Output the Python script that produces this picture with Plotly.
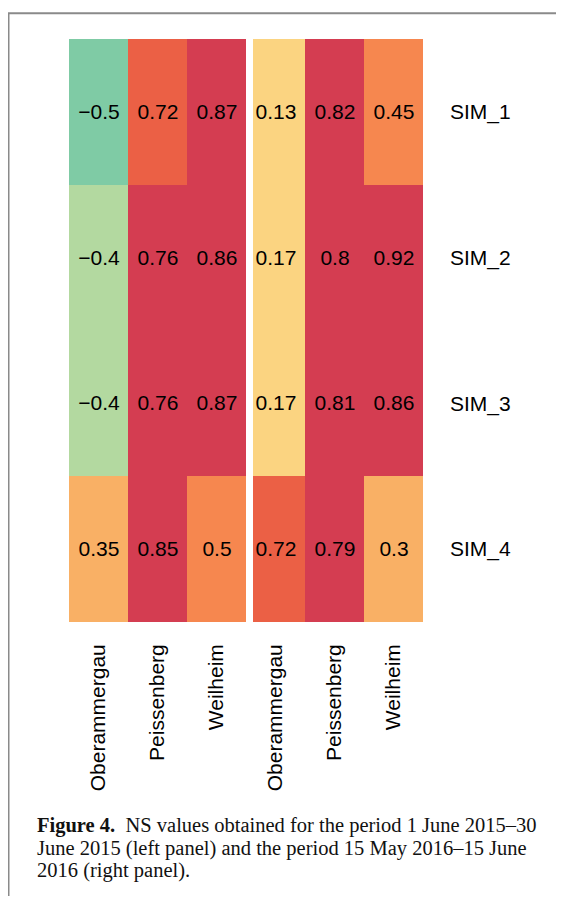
import plotly.graph_objects as go

# ---- data ----
stations = ["Oberammergau", "Peissenberg", "Weilheim"]
sims = ["SIM_1", "SIM_2", "SIM_3", "SIM_4"]
ns_2015 = [
    [-0.5, 0.72, 0.87],
    [-0.4, 0.76, 0.86],
    [-0.4, 0.76, 0.87],
    [0.35, 0.85, 0.5],
]
ns_2016 = [
    [0.13, 0.82, 0.45],
    [0.17, 0.8, 0.92],
    [0.17, 0.81, 0.86],
    [0.72, 0.79, 0.3],
]
caption_lines = [
    "<b>Figure 4.</b>  NS values obtained for the period 1 June 2015–30",
    "June 2015 (left panel) and the period 15 May 2016–15 June",
    "2016 (right panel).",
]

# ---- binned colour scale ----
bin_edges = [-0.6, -0.45, -0.3, 0.1, 0.25, 0.4, 0.6, 0.75, 1.0]
bin_colors = ["#7FCBA5", "#B3D9A0", "#FFFFBF", "#FBD481",
              "#F9B065", "#F6874F", "#EB6045", "#D43D51"]
zmin, zmax = bin_edges[0], bin_edges[-1]
cscale = []
for i, c in enumerate(bin_colors):
    a = (bin_edges[i] - zmin) / (zmax - zmin)
    b = (bin_edges[i + 1] - zmin) / (zmax - zmin)
    cscale.append([a, c])
    cscale.append([b, c])


def fmt(v):
    return f"{v:g}".replace("-", "\u2212")


OFF = 8  # page body margin
W, H = 564 - 2 * OFF, 904 - 2 * OFF


def px(x):
    return (x - OFF) / W


def py(y):
    return 1 - (y - OFF) / H


fig = go.Figure()
for vals, xa, ya in [(ns_2015, "x", "y"), (ns_2016, "x2", "y2")]:
    fig.add_trace(go.Heatmap(
        z=vals, x=stations, y=sims,
        text=[[fmt(v) for v in row] for row in vals],
        texttemplate="%{text}",
        textfont=dict(family="Liberation Sans, Arial", size=21, color="black"),
        colorscale=cscale, zmin=zmin, zmax=zmax, showscale=False,
        xgap=0, ygap=0, xaxis=xa, yaxis=ya, hoverinfo="skip",
    ))

ydom = [py(622), py(39)]
xfont = dict(family="Liberation Sans, Arial", size=21, color="black")
common_x = dict(tickangle=-90, tickfont=xfont, showgrid=False, zeroline=False,
                showline=False, ticks="", ticklabelstandoff=17, fixedrange=True)
fig.update_layout(
    width=W, height=H,
    margin=dict(l=0, r=0, t=0, b=0),
    paper_bgcolor="white", plot_bgcolor="white",
    xaxis=dict(domain=[px(69), px(246)], anchor="y", range=[-0.5, 2.5], **common_x),
    xaxis2=dict(domain=[px(253), px(423)], anchor="y2",
                range=[-0.5 + 7 / 59, 2.5], **common_x),
    yaxis=dict(domain=ydom, anchor="x", autorange="reversed", showticklabels=False,
               showgrid=False, zeroline=False, ticks=""),
    yaxis2=dict(domain=ydom, anchor="x2", autorange="reversed", side="right",
                tickfont=xfont, showgrid=False, zeroline=False, ticks="",
                ticklabelstandoff=26),
    showlegend=False,
)

# frame (left and top edges)
fig.add_shape(type="path", xref="paper", yref="paper",
              path=f"M {px(8.5)} -0.05 L {px(8.5)} {py(13.3)} L 1.05 {py(13.3)}",
              line=dict(color="#8A8A8A", width=2))

# caption
for i, line in enumerate(caption_lines):
    fig.add_annotation(
        x=px(35), y=py(834 + 22.5 * i), xref="paper", yref="paper",
        xanchor="left", yanchor="bottom", yshift=-5, showarrow=False, text=line,
        font=dict(family="Liberation Serif, Times New Roman", size=20.5, color="#111"),
        align="left",
    )

fig.write_html("out.html")
